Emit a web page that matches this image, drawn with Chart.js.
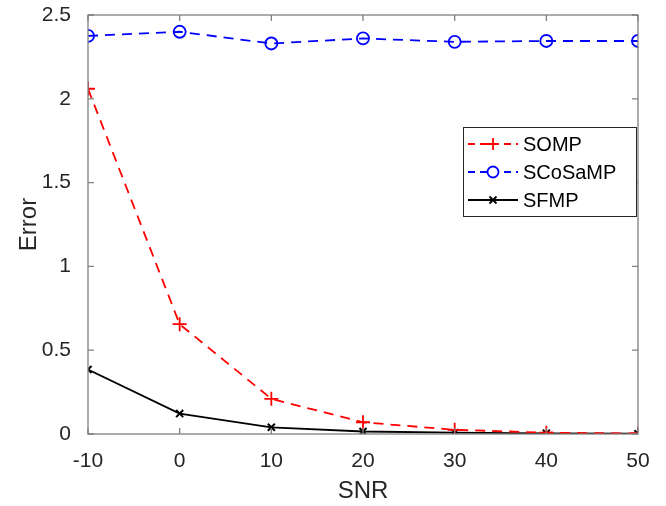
<!DOCTYPE html>
<html>
<head>
<meta charset="utf-8">
<script src="https://cdn.jsdelivr.net/npm/chart.js@4/dist/chart.umd.min.js"></script>
<style>
  body { margin: 0; background: #fff; }
  #wrap { width: 666px; height: 506px; }
</style>
</head>
<body>
<div id="wrap"><canvas id="errChart" width="666" height="506"></canvas></div>
<script>
// data
const snr = [-10, 0, 10, 20, 30, 40, 50];
const somp = [2.06, 0.655, 0.21, 0.07, 0.025, 0.008, 0.003];
const scosamp = [2.375, 2.40, 2.33, 2.36, 2.34, 2.345, 2.345];
const sfmp = [0.385, 0.122, 0.04, 0.015, 0.008, 0.004, 0.002];
const xTicks = [-10, 0, 10, 20, 30, 40, 50];
const yTicks = [0, 0.5, 1, 1.5, 2, 2.5];

const FONT = 'Liberation Sans, Arial, sans-serif';
const axisGray = '#808080';
const textCol = '#262626';

function pts(ys) {
    return snr.map((x, i) => ({ x: x, y: ys[i] }));
}

// box + inward tick marks, matlab style
const boxPlugin = {
    id: 'box',
    afterDraw(chart) {
        const c = chart.ctx, a = chart.chartArea;
        const xs = chart.scales.x, ys = chart.scales.y;
        c.save();
        c.strokeStyle = axisGray;
        c.lineWidth = 1.3;
        c.strokeRect(a.left, a.top, a.right - a.left, a.bottom - a.top);
        const len = 6;
        c.beginPath();
        xTicks.forEach(v => {
            const px = xs.getPixelForValue(v);
            c.moveTo(px, a.bottom); c.lineTo(px, a.bottom - len);
            c.moveTo(px, a.top); c.lineTo(px, a.top + len);
        });
        yTicks.forEach(v => {
            const py = ys.getPixelForValue(v);
            c.moveTo(a.left, py); c.lineTo(a.left + len, py);
            c.moveTo(a.right, py); c.lineTo(a.right - len, py);
        });
        c.stroke();
        c.restore();
    }
};

// legend box inside the axes
const legendPlugin = {
    id: 'boxLegend',
    afterDraw(chart) {
        const c = chart.ctx;
        const x0 = 463, y0 = 127, w = 173, h = 89;
        c.save();
        c.fillStyle = '#fff';
        c.fillRect(x0, y0, w, h);
        c.strokeStyle = '#262626';
        c.lineWidth = 1;
        c.strokeRect(x0 + 0.5, y0 + 0.5, w, h);
        chart.data.datasets.forEach((ds, i) => {
            const cy = y0 + 17 + i * 28;
            const lx1 = x0 + 5, lx2 = x0 + 55;
            c.strokeStyle = ds.borderColor;
            c.lineWidth = ds.borderWidth;
            c.setLineDash(ds.borderDash ? [7, 5] : []);
            c.beginPath(); c.moveTo(lx1, cy); c.lineTo(lx2, cy); c.stroke();
            c.setLineDash([]);
            const mx = (lx1 + lx2) / 2;
            c.beginPath();
            if (ds.pointStyle === 'cross') {
                c.moveTo(mx - 6, cy); c.lineTo(mx + 6, cy);
                c.moveTo(mx, cy - 6); c.lineTo(mx, cy + 6);
            } else if (ds.pointStyle === 'circle') {
                c.fillStyle = '#fff';
                c.arc(mx, cy, 5.5, 0, Math.PI * 2);
                c.fill();
            } else {
                c.moveTo(mx - 3.5, cy - 3.5); c.lineTo(mx + 3.5, cy + 3.5);
                c.moveTo(mx + 3.5, cy - 3.5); c.lineTo(mx - 3.5, cy + 3.5);
            }
            c.stroke();
            c.fillStyle = '#000';
            c.font = '20px ' + FONT;
            c.textBaseline = 'middle';
            c.fillText(ds.label, x0 + 60, cy + 1);
        });
        c.restore();
    }
};

const ctx = document.getElementById('errChart').getContext('2d');
const errChart = new Chart(ctx, {
    type: 'line',
    data: {
        datasets: [{
            label: 'SOMP',
            data: pts(somp),
            borderColor: '#ff0000',
            backgroundColor: '#ff0000',
            borderWidth: 1.8,
            borderDash: [10, 7],
            pointStyle: 'cross',
            pointRadius: 7,
            pointBorderWidth: 1.8
        }, {
            label: 'SCoSaMP',
            data: pts(scosamp),
            borderColor: '#0000ff',
            backgroundColor: 'rgba(0,0,0,0)',
            borderWidth: 1.8,
            borderDash: [10, 7],
            pointStyle: 'circle',
            pointRadius: 6,
            pointBorderWidth: 1.8
        }, {
            label: 'SFMP',
            data: pts(sfmp),
            borderColor: '#000000',
            backgroundColor: '#000000',
            borderWidth: 1.8,
            pointStyle: 'crossRot',
            pointRadius: 5,
            pointBorderWidth: 2
        }]
    },
    options: {
        responsive: false,
        animation: false,
        layout: { padding: { top: 15, right: 28, left: 15, bottom: 0 } },
        plugins: {
            legend: { display: false },
            tooltip: { enabled: false }
        },
        scales: {
            x: {
                type: 'linear',
                min: -10,
                max: 50,
                grid: { display: false },
                border: { display: false },
                afterBuildTicks: s => { s.ticks = xTicks.map(v => ({ value: v })); },
                afterFit: s => { s.height = 72; s.paddingLeft = 0; s.paddingRight = 0; },
                ticks: {
                    color: textCol,
                    font: { family: FONT, size: 21 },
                    padding: 7,
                    maxRotation: 0,
                    callback: v => String(v)
                },
                title: {
                    display: true,
                    text: 'SNR',
                    color: textCol,
                    font: { family: FONT, size: 24 },
                    padding: { top: 0, bottom: 0 }
                }
            },
            y: {
                min: 0,
                max: 2.5,
                grid: { display: false },
                border: { display: false },
                afterBuildTicks: s => { s.ticks = yTicks.map(v => ({ value: v })); },
                afterFit: s => { s.width = 73; s.paddingTop = 0; s.paddingBottom = 0; },
                ticks: {
                    color: textCol,
                    font: { family: FONT, size: 21 },
                    padding: 9,
                    callback: v => String(v)
                },
                title: {
                    display: true,
                    text: 'Error',
                    color: textCol,
                    font: { family: FONT, size: 24 },
                    padding: { top: 0, bottom: 0 }
                }
            }
        }
    },
    plugins: [boxPlugin, legendPlugin]
});
</script>
</body>
</html>
